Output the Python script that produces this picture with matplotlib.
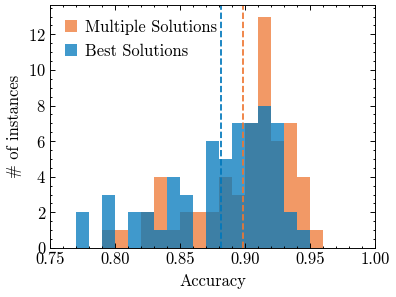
import matplotlib
matplotlib.use("Agg")
import matplotlib.pyplot as plt
import numpy as np
from matplotlib.ticker import AutoMinorLocator, MultipleLocator

# histogram bins (accuracy, width 0.01) and counts
bin_left = [0.77, 0.78, 0.79, 0.80, 0.81, 0.82, 0.83, 0.84, 0.85,
            0.86, 0.87, 0.88, 0.89, 0.90, 0.91, 0.92, 0.93, 0.94, 0.95]
multiple_counts = [0, 0, 1, 1, 0, 2, 4, 1, 2, 2, 2, 4, 3, 7, 13, 6, 7, 4, 1]
best_counts = [2, 0, 3, 0, 2, 2, 1, 4, 3, 0, 6, 5, 7, 7, 8, 7, 2, 1, 0]
bin_width = 0.01

mean_multiple = 0.8987
mean_best = 0.8815

c_orange = "#EE7733"
c_blue = "#0077BB"


def main():
    plt.rcParams.update({
        "font.family": "serif",
        "font.serif": ["cmr10"],
        "mathtext.fontset": "cm",
        "axes.formatter.use_mathtext": True,
        "font.size": 10.5,
        "axes.linewidth": 0.6,
        "xtick.direction": "in",
        "ytick.direction": "in",
        "xtick.top": True,
        "ytick.right": True,
        "xtick.major.size": 3,
        "ytick.major.size": 3,
        "xtick.minor.size": 1.5,
        "ytick.minor.size": 1.5,
        "xtick.major.width": 0.6,
        "ytick.major.width": 0.6,
        "xtick.minor.width": 0.6,
        "ytick.minor.width": 0.6,
        "xtick.major.pad": 2.5,
        "ytick.major.pad": 2.5,
        "xtick.minor.visible": True,
        "ytick.minor.visible": True,
    })

    fig = plt.figure(figsize=(3.5, 2.625), dpi=396 / 3.5)
    ax = fig.add_subplot(111)
    fig.subplots_adjust(left=50 / 396, right=375 / 396,
                        top=1 - 5 / 297, bottom=1 - 248 / 297)

    edges = np.append(bin_left, bin_left[-1] + bin_width)
    ax.hist(bin_left, bins=edges, weights=multiple_counts, color=c_orange,
            alpha=0.75, label="Multiple Solutions")
    ax.hist(bin_left, bins=edges, weights=best_counts, color=c_blue,
            alpha=0.75, label="Best Solutions")

    ax.axvline(mean_best, color=c_blue, ls="--", lw=1.1)
    ax.axvline(mean_multiple, color=c_orange, ls="--", lw=1.1)

    ax.set_xlim(0.75, 1.0)
    ax.xaxis.set_major_locator(MultipleLocator(0.05))
    ax.xaxis.set_minor_locator(AutoMinorLocator(5))
    ax.yaxis.set_major_locator(MultipleLocator(2))
    ax.yaxis.set_minor_locator(AutoMinorLocator(4))
    ax.xaxis.set_major_formatter(plt.FuncFormatter(lambda v, p: "%.2f" % v))

    ax.set_xlabel("Accuracy", labelpad=4)
    ax.set_ylabel("# of instances", labelpad=4)
    ax.legend(loc="upper left", frameon=False, handlelength=0.75,
              handleheight=0.75, handletextpad=0.5, borderaxespad=0.5,
              labelspacing=0.5)

    fig.savefig("out.png", dpi=396 / 3.5)


if __name__ == "__main__":
    main()
